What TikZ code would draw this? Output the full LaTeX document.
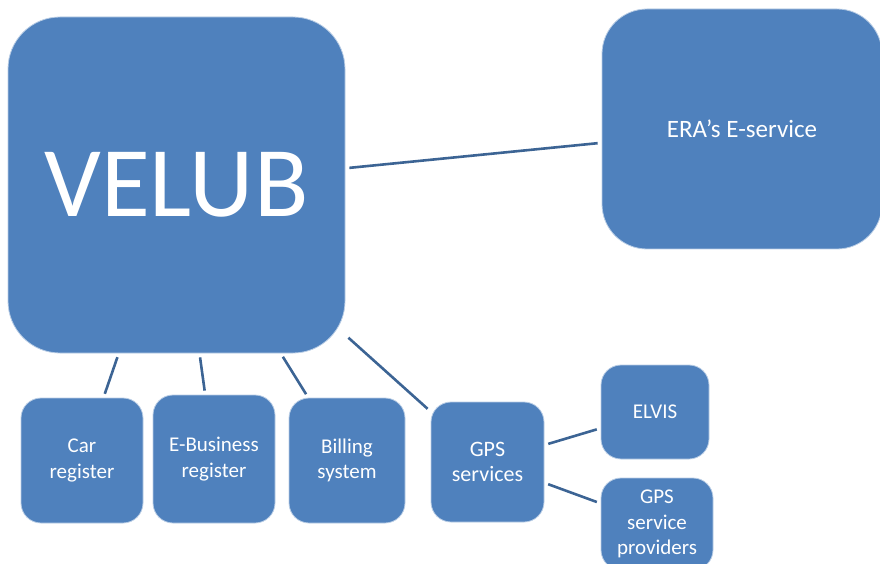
\documentclass[tikz,border=0pt]{standalone}
\usepackage{fontspec}
\setmainfont{Carlito}
\definecolor{boxblue}{HTML}{4F81BD}
\definecolor{boxline}{HTML}{B9CDE5}
\definecolor{linkblue}{HTML}{3C6494}
\tikzset{
    box/.style={rectangle, rounded corners=#1, fill=boxblue, draw=boxline, line width=0.8pt,
        text=white, align=center, inner sep=0pt, font=\fontsize{21}{25.5}\selectfont},
    box/.default=20pt,
    link/.style={draw=linkblue, line width=2.6pt, shorten <=4pt, shorten >=4pt}
}
\begin{document}
\begin{tikzpicture}[x=1pt, y=1pt]
    \clip (0,0) rectangle (880,563);
    \useasboundingbox (0,0) rectangle (880,563);

    \node[box=52pt, minimum width=337pt, minimum height=336pt,
        font=\fontsize{100}{102}\selectfont] (velub) at (176.5,378) {VELUB};
    \node[box=45pt, minimum width=280pt, minimum height=240pt,
        font=\fontsize{25}{30}\selectfont] (era) at (742,434) {ERA’s E-service};

    \node[box, minimum width=122pt, minimum height=125pt] (car) at (82,102.5) {Car\\register};
    \node[box, minimum width=122pt, minimum height=128pt] (ebiz) at (214,104) {E-Business\\register};
    \node[box, minimum width=116pt, minimum height=125pt] (billing) at (347,102.5) {Billing\\system};
    \node[box, minimum width=113pt, minimum height=120pt,
        font=\fontsize{22}{25.5}\selectfont] (gps) at (487.5,101) {GPS\\services};
    \node[box, minimum width=108pt, minimum height=94pt] (elvis) at (655,151) {ELVIS};
    \node[box, minimum width=112pt, minimum height=92pt] (prov) at (657,39) {GPS\\service\\providers};

    \draw[link] (velub) -- (era);
    \draw[link] (velub) -- (car);
    \draw[link] (velub) -- (ebiz);
    \draw[link] (velub) -- (billing);
    \draw[link] (velub) -- (gps);
    \draw[link] (gps) -- (elvis);
    \draw[link] (gps) -- (prov);
\end{tikzpicture}
\end{document}
